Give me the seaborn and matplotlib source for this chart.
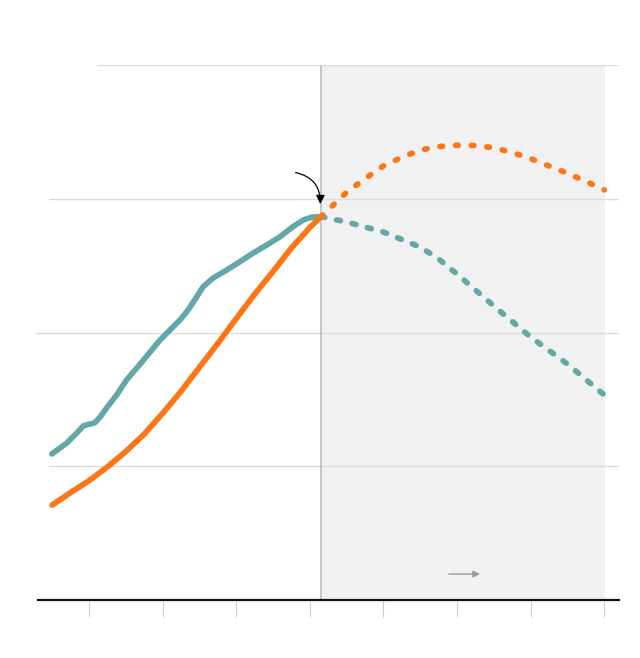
import matplotlib
matplotlib.use("Agg")
import matplotlib.pyplot as plt
import seaborn as sns
import pandas as pd

# values (x = year, y = arbitrary units, gridlines at 1..4)
TEAL_YEARS = [1949.9, 1953.9, 1956.7, 1958.5, 1960.3, 1961.6, 1963.0, 1964.8, 1967.5, 1970.2,
              1973.9, 1976.6, 1979.3, 1982.0, 1984.7, 1986.9, 1989.3, 1991.0, 1993.7, 1997.4,
              2001.0, 2004.6, 2008.3, 2011.9, 2015.4, 2018.2, 2020.5, 2023.0]
TEAL_VALUES = [1.092, 1.172, 1.249, 1.303, 1.316, 1.326, 1.368, 1.436, 1.533, 1.645,
               1.764, 1.854, 1.944, 2.019, 2.093, 2.168, 2.268, 2.342, 2.407, 2.467,
               2.529, 2.594, 2.654, 2.716, 2.791, 2.841, 2.862, 2.866]
TEAL_PROJ_YEARS = [2023, 2030, 2040, 2050, 2055, 2060, 2070, 2080, 2090, 2100]
TEAL_PROJ_VALUES = [2.866, 2.826, 2.751, 2.639, 2.550, 2.437, 2.198, 1.966, 1.764, 1.533]

ORANGE_YEARS = [1950, 1955, 1960, 1965, 1970, 1975, 1980, 1985, 1990, 1995, 2000, 2005,
                2010, 2015, 2020, 2023]
ORANGE_VALUES = [0.710, 0.803, 0.892, 0.995, 1.110, 1.240, 1.395, 1.560, 1.740, 1.918, 2.104, 2.286,
                 2.456, 2.632, 2.785, 2.866]
ORANGE_PROJ_YEARS = [2023, 2030, 2035, 2040, 2045, 2050, 2055, 2060, 2065, 2070, 2075, 2080,
                     2085, 2090, 2095, 2100]
ORANGE_PROJ_VALUES = [2.866, 3.048, 3.150, 3.245, 3.310, 3.364, 3.390, 3.400, 3.398, 3.381, 3.345, 3.300,
                      3.245, 3.190, 3.130, 3.066]

X_TICKS = [1960, 1980, 2000, 2020, 2040, 2060, 2080, 2100]
GRID_LEVELS = [1, 2, 3, 4]
GRID_STARTS = [0.022, 0.0, 0.022, 0.105]  # axes fraction where each gridline begins
SPLIT_YEAR = 2023
END_YEAR = 2100.2

TEAL = "#64a8a6"
ORANGE = "#fd7514"

sns.set_style("white")

fig = plt.figure(figsize=(6.4, 6.58), dpi=100)
ax = fig.add_axes([36 / 640, 58 / 658, 583 / 640, 535 / 658])

ax.axvspan(SPLIT_YEAR, END_YEAR, color="#f1f1f1", zorder=0, lw=0)
for lvl, start in zip(GRID_LEVELS, GRID_STARTS):
    ax.axhline(lvl, xmin=start, xmax=1, color="#dcdcdc", lw=1, zorder=1)
ax.axvline(SPLIT_YEAR, color="#bdbdbd", lw=1.2, zorder=1)

teal = pd.DataFrame({"year": TEAL_YEARS, "value": TEAL_VALUES})
teal_proj = pd.DataFrame({"year": TEAL_PROJ_YEARS, "value": TEAL_PROJ_VALUES})
orange = pd.DataFrame({"year": ORANGE_YEARS, "value": ORANGE_VALUES})
orange_proj = pd.DataFrame({"year": ORANGE_PROJ_YEARS, "value": ORANGE_PROJ_VALUES})

lw = 4.1
sns.lineplot(data=teal_proj, x="year", y="value", ax=ax, color=TEAL, lw=lw,
             linestyle=(0, (0.7, 2.1)), dash_capstyle="round", zorder=3)
sns.lineplot(data=orange_proj, x="year", y="value", ax=ax, color=ORANGE, lw=lw,
             linestyle=(0, (0.45, 2.3)), dash_capstyle="round", zorder=3)
sns.lineplot(data=teal, x="year", y="value", ax=ax, color=TEAL, lw=lw,
             solid_capstyle="round", solid_joinstyle="round", zorder=4)
sns.lineplot(data=orange, x="year", y="value", ax=ax, color=ORANGE, lw=lw,
             solid_capstyle="round", solid_joinstyle="round", zorder=5)

# curved pointer to the split point
ax.annotate("", xy=(2022.8, 2.94), xytext=(2015.4, 3.2),
            arrowprops=dict(arrowstyle="-|>", color="black", lw=0.9,
                            connectionstyle="arc3,rad=-0.45", mutation_scale=13),
            zorder=6)
# small grey arrow in the projection area
ax.annotate("", xy=(2067, 0.194), xytext=(2057, 0.194),
            arrowprops=dict(arrowstyle="-|>", color="#9a9a9a", lw=1, mutation_scale=10),
            zorder=6)

ax.set_xlim(1945.6, 2104)
ax.set_ylim(0, 4)
ax.set_xticks(X_TICKS)
ax.set_xticklabels([])
ax.set_yticks([])
ax.set_xlabel("")
ax.set_ylabel("")
ax.tick_params(axis="x", direction="out", length=12, width=0.8, color="#cccccc", bottom=True)
for side in ["top", "left", "right"]:
    ax.spines[side].set_visible(False)
ax.spines["bottom"].set_color("#111111")
ax.spines["bottom"].set_linewidth(1.6)
ax.spines["bottom"].set_bounds(1946.1, 2104)
ax.spines["bottom"].set_zorder(7)

fig.savefig("out.png", dpi=100)
